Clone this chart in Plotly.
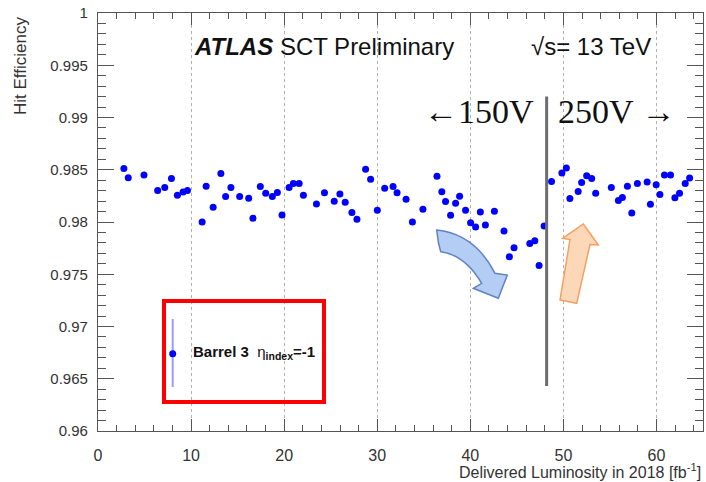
import plotly.graph_objects as go

# ---- data ----
lumi = [2.78, 3.25, 4.94, 6.41, 7.17, 7.89, 8.53, 9.14, 9.61, 11.19, 11.62, 12.37, 13.20, 13.71,
        14.28, 15.22, 16.19, 16.65, 17.44, 18.02, 18.73, 19.27, 19.77, 20.53, 20.99, 21.61,
        22.07, 23.47, 24.33, 25.38, 25.99, 26.56, 27.28, 27.82, 28.75, 29.29, 30.01, 30.80,
        31.70, 32.13, 33.10, 33.78, 34.91, 36.42, 36.94, 37.34, 37.88, 38.42, 38.85, 39.49,
        40.03, 40.57, 41.08, 41.62, 42.59, 43.62, 44.20, 44.70, 46.39, 46.93, 47.39, 47.93,
        48.73, 49.84, 50.32, 50.70, 51.59, 51.96, 52.50, 53.04, 53.47, 55.15, 55.91, 56.34,
        56.88, 57.35, 57.95, 59.00, 59.35, 59.97, 60.37, 60.86, 61.51, 61.98, 62.48, 63.09,
        63.56]
efficiency = [0.98513, 0.98423, 0.98449, 0.98302, 0.98331, 0.98417, 0.98257, 0.98288, 0.98302,
              0.98000, 0.98343, 0.98141, 0.98465, 0.98244, 0.98331, 0.98244, 0.98228, 0.98036,
              0.98340, 0.98276, 0.98244, 0.98283, 0.98067, 0.98331, 0.98369, 0.98369, 0.98257,
              0.98173, 0.98279, 0.98199, 0.98269, 0.98189, 0.98090, 0.98026, 0.98504, 0.98408,
              0.98113, 0.98324, 0.98340, 0.98279, 0.98218, 0.98000, 0.98122, 0.98437, 0.98290,
              0.98196, 0.98064, 0.98180, 0.98247, 0.98113, 0.97994, 0.97952, 0.98096, 0.97971,
              0.98103, 0.97913, 0.97667, 0.97754, 0.97795, 0.97821, 0.97584, 0.97962, 0.98388,
              0.98468, 0.98516, 0.98225, 0.98292, 0.98379, 0.98442, 0.98417, 0.98276, 0.98331,
              0.98206, 0.98235, 0.98343, 0.98087, 0.98369, 0.98382, 0.98170, 0.98356, 0.98263,
              0.98449, 0.98449, 0.98231, 0.98276, 0.98369, 0.98420]

x_ticks = [0, 10, 20, 30, 40, 50, 60]
y_ticks = [0.96, 0.965, 0.97, 0.975, 0.98, 0.985, 0.99, 0.995, 1.0]
y_tick_text = ["0.96", "0.965", "0.97", "0.975", "0.98", "0.985", "0.99", "0.995", "1"]
hv_switch_lumi = 48.2
hv_line_range = [0.9643, 0.992]

# ---- layout geometry (pixels) ----
W, H = 706, 482
L, R, T, B = 98, 3, 13, 51
PW, PH = W - L - R, H - T - B


def px(x):
    return (x - L) / PW


def py(y):
    return (H - B - y) / PH


SANS = "Liberation Sans, Arial, Helvetica, sans-serif"
SERIF = "Liberation Serif, DejaVu Serif, serif"

fig = go.Figure()
fig.add_trace(go.Scatter(
    x=lumi, y=efficiency, mode="markers",
    marker=dict(color="#0000ff", size=7, line=dict(width=0)),
    showlegend=False, hoverinfo="x+y"))

axis_common = dict(
    showline=True, linecolor="#555555", linewidth=1.2, mirror="ticks",
    ticks="inside", tickcolor="#555555", tickwidth=1.2,
    zeroline=False,
)

fig.update_xaxes(
    range=[0, 65], tickvals=x_ticks, ticklen=12,
    tickfont=dict(family=SANS, size=16, color="#333333"),
    minor=dict(dtick=2, ticklen=6, ticks="inside", tickcolor="#555555", tickwidth=1.2, showgrid=False),
    showgrid=True, gridcolor="#b0b0b0", griddash="dot", gridwidth=1,
    ticklabelstandoff=10,
    **axis_common)
fig.update_yaxes(
    range=[0.96, 1.0], tickvals=y_ticks, ticktext=y_tick_text, ticklen=16,
    tickfont=dict(family=SANS, size=15, color="#333333"),
    minor=dict(dtick=0.001, ticklen=8, ticks="inside", tickcolor="#555555", tickwidth=1.2, showgrid=False),
    showgrid=False, ticklabelstandoff=6,
    **axis_common)

shapes = []
# high-voltage switch line
shapes.append(dict(type="line", xref="x", yref="y", x0=hv_switch_lumi, x1=hv_switch_lumi,
                   y0=hv_line_range[0], y1=hv_line_range[1],
                   line=dict(color="#6e6e6e", width=3)))


def P(x, y):
    return f"{px(x):.5f},{py(y):.5f}"


# blue curved arrow (decoration)
blue_arrow = ("M " + P(436.7, 230) +
              " Q " + P(475, 234) + " " + P(495, 273.3) +
              " L " + P(507.3, 275) +
              " L " + P(498.3, 298.3) +
              " L " + P(473.3, 288.3) +
              " L " + P(481.7, 283.3) +
              " Q " + P(465, 255) + " " + P(440.7, 251.7) +
              " L " + P(438.5, 243) + " Z")
shapes.append(dict(type="path", xref="paper", yref="paper", path=blue_arrow,
                   fillcolor="#b4cdf5", line=dict(color="#5f83c4", width=1.5)))

# orange straight arrow (decoration)
orange_arrow = ("M " + P(583.3, 224) +
                " L " + P(598.3, 245) +
                " L " + P(590, 244.5) +
                " L " + P(576.7, 303.3) +
                " L " + P(560, 300) +
                " L " + P(570, 239.5) +
                " L " + P(562.7, 238.3) + " Z")
shapes.append(dict(type="path", xref="paper", yref="paper", path=orange_arrow,
                   fillcolor="#fdd8b8", line=dict(color="#f4a060", width=1.5)))

# legend box
shapes.append(dict(type="rect", xref="paper", yref="paper",
                   x0=px(164), x1=px(324), y0=py(402), y1=py(301),
                   line=dict(color="#ff0000", width=4), fillcolor="rgba(0,0,0,0)"))
shapes.append(dict(type="line", xref="paper", yref="paper",
                   x0=px(172.7), x1=px(172.7), y0=py(387), y1=py(319),
                   line=dict(color="#9a9aff", width=2)))
shapes.append(dict(type="circle", xref="paper", yref="paper",
                   x0=px(169.2), x1=px(176.2), y0=py(357.2), y1=py(350.2),
                   fillcolor="#0000ff", line=dict(color="#0000ff", width=0)))

annotations = [
    dict(text="<b><i>ATLAS</i></b> SCT Preliminary", x=px(192), y=py(47), xanchor="left",
         yanchor="middle", font=dict(family=SANS, size=24, color="#111111")),
    dict(text="√s= 13 TeV", x=px(529), y=py(47), xanchor="left", yanchor="middle",
         font=dict(family=SANS, size=24, color="#111111")),
    dict(text="←150V", x=px(422), y=py(111), xanchor="left", yanchor="middle",
         font=dict(family=SERIF, size=34, color="#111111")),
    dict(text="250V →", x=px(556), y=py(111), xanchor="left", yanchor="middle",
         font=dict(family=SERIF, size=34, color="#111111")),
    dict(text="<b>Barrel 3</b>  η<sub><b>index</b></sub><b>=-1</b>", x=px(191), y=py(352),
         xanchor="left", yanchor="middle", font=dict(family=SANS, size=15, color="#111111")),
    dict(text="Delivered Luminosity in 2018 [fb<sup>-1</sup>]", x=px(703), y=py(471),
         xanchor="right", yanchor="middle", font=dict(family=SANS, size=16, color="#333333")),
    dict(text="Hit Efficiency", x=px(20), y=py(15), xanchor="center", yanchor="top",
         textangle=-90, font=dict(family=SANS, size=17, color="#333333")),
]
for a in annotations:
    a.update(xref="paper", yref="paper", showarrow=False)

fig.update_layout(
    width=W, height=H, margin=dict(l=L, r=R, t=T, b=B),
    paper_bgcolor="white", plot_bgcolor="white",
    shapes=shapes, annotations=annotations, showlegend=False,
)

fig.write_html("out.html", config={"displayModeBar": False},
               post_script="document.body.style.margin='0';document.body.style.overflow='hidden';")
